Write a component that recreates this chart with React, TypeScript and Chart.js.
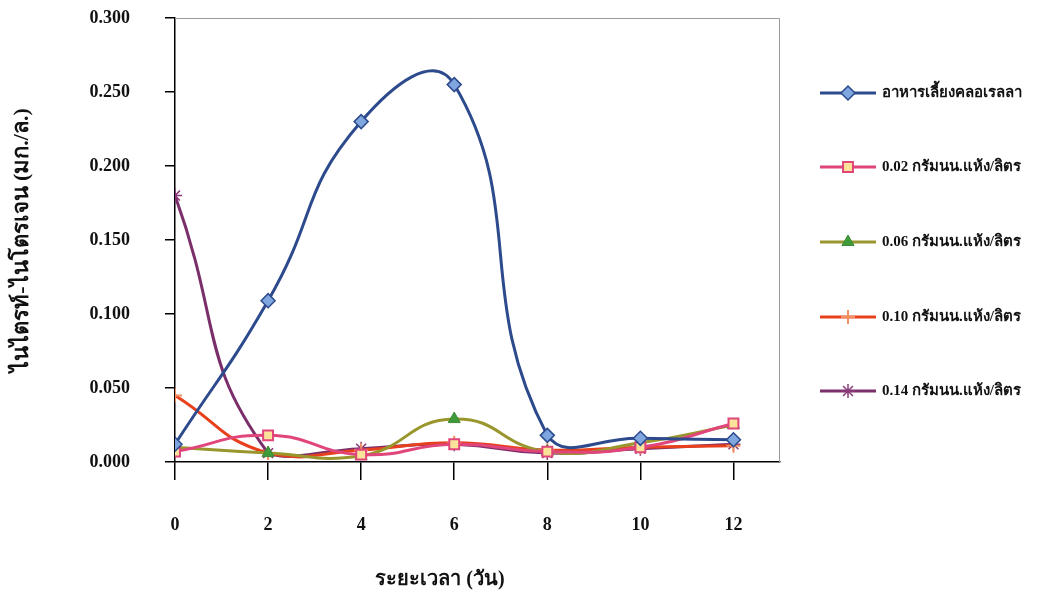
import React, { useEffect, useRef } from 'react';
import { Chart, registerables } from 'chart.js';
import { drawPoint } from 'chart.js/helpers';

Chart.register(...registerables);

const days = [0, 2, 4, 6, 8, 10, 12];
const chlorella = [0.012, 0.109, 0.23, 0.255, 0.018, 0.016, 0.015];
const dose002 = [0.007, 0.018, 0.005, 0.012, 0.007, 0.01, 0.026];
const dose006 = [0.01, 0.006, 0.004, 0.029, 0.007, 0.013, 0.025];
const dose010 = [0.045, 0.006, 0.008, 0.013, 0.008, 0.01, 0.011];
const dose014 = [0.18, 0.006, 0.009, 0.012, 0.006, 0.009, 0.012];
const seriesLabels = [
  'อาหารเลี้ยงคลอเรลลา',
  '0.02 กรัมนน.แห้ง/ลิตร',
  '0.06 กรัมนน.แห้ง/ลิตร',
  '0.10 กรัมนน.แห้ง/ลิตร',
  '0.14 กรัมนน.แห้ง/ลิตร',
];
const yTicks = [0, 0.05, 0.1, 0.15, 0.2, 0.25, 0.3];
const xTitle = 'ระยะเวลา (วัน)';
const yTitle = 'ไนไตรท์-ไนโตรเจน (มก./ล.)';

const FONT = '"Liberation Serif", "DejaVu Serif", serif';

const styles = [
  { line: '#2C4A8C', fill: '#7FA6DE', border: '#2C4A8C', point: 'rectRot', radius: 7, bw: 1.5 },
  { line: '#E0457B', fill: '#FBE49A', border: '#E0457B', point: 'rect', radius: 7, bw: 2 },
  { line: '#9A962E', fill: '#3E9A3A', border: '#3E8A36', point: 'triangle', radius: 7, bw: 1 },
  { line: '#E8401C', fill: '#F4A070', border: '#F29060', point: 'cross', radius: 7, bw: 2 },
  { line: '#7A2F6B', fill: '#7A2F6B', border: '#8A3A7A', point: 'star', radius: 7, bw: 1.5 },
];
const seriesValues = [chlorella, dose002, dose006, dose010, dose014];

const decorPlugin = {
  id: 'decor',
  beforeDatasetsDraw(chart: any) {
    const { ctx, chartArea: a } = chart;
    ctx.save();
    ctx.strokeStyle = '#9a9a9a';
    ctx.lineWidth = 1;
    ctx.beginPath();
    ctx.moveTo(a.left, a.top + 0.5);
    ctx.lineTo(a.right - 0.5, a.top + 0.5);
    ctx.lineTo(a.right - 0.5, a.bottom);
    ctx.stroke();
    ctx.restore();
  },
  afterDraw(chart: any) {
    const { ctx } = chart;
    ctx.save();
    const ys = [93, 167, 242, 317, 391];
    seriesLabels.forEach((lab, i) => {
      const s = styles[i];
      const y = ys[i];
      ctx.strokeStyle = s.line;
      ctx.lineWidth = 3;
      ctx.beginPath();
      ctx.moveTo(820, y);
      ctx.lineTo(876, y);
      ctx.stroke();
      ctx.fillStyle = s.fill;
      ctx.strokeStyle = s.border;
      ctx.lineWidth = s.bw;
      drawPoint(ctx, { pointStyle: s.point, radius: s.radius, rotation: 0, borderWidth: s.bw } as any, 848, y);
      ctx.fillStyle = '#111';
      ctx.font = 'bold 15px ' + FONT;
      ctx.textAlign = 'left';
      ctx.textBaseline = 'middle';
      ctx.fillText(lab, 882, y);
    });
    ctx.fillStyle = '#111';
    ctx.font = 'bold 20px ' + FONT;
    ctx.textAlign = 'center';
    ctx.textBaseline = 'middle';
    ctx.fillText(xTitle, 440, 580);
    ctx.font = 'bold 22px ' + FONT;
    ctx.translate(22, 240);
    ctx.rotate(-Math.PI / 2);
    ctx.fillText(yTitle, 0, 0);
    ctx.restore();
  },
};

export default function App() {
  const ref = useRef<HTMLCanvasElement | null>(null);
  useEffect(() => {
    if (!ref.current) return;
    const chart = new Chart(ref.current, {
      type: 'line',
      data: {
        datasets: seriesValues.map((vals, i) => ({
          label: seriesLabels[i],
          data: days.map((d, j) => ({ x: d, y: vals[j] })),
          borderColor: styles[i].line,
          borderWidth: 3,
          backgroundColor: styles[i].fill,
          pointBackgroundColor: styles[i].fill,
          pointBorderColor: styles[i].border,
          pointBorderWidth: styles[i].bw,
          pointStyle: styles[i].point as any,
          pointRadius: styles[i].radius,
          tension: 0.5,
          fill: false,
        })),
      },
      options: {
        animation: false,
        responsive: false,
        layout: { padding: { left: 0, right: 269, top: 18, bottom: 0 } },
        plugins: { legend: { display: false }, tooltip: { enabled: false } },
        scales: {
          x: {
            type: 'linear',
            min: 0,
            max: 13,
            afterBuildTicks: (s: any) => {
              s.ticks = days.map((v) => ({ value: v }));
            },
            afterFit: (s: any) => {
              s.height = 137;
              s.paddingLeft = 0;
              s.paddingRight = 0;
            },
            grid: { drawOnChartArea: false, drawTicks: true, tickLength: 18, color: '#000', lineWidth: 1.5 },
            border: { color: '#000', width: 1.5 },
            ticks: { color: '#111', padding: 35, font: { family: FONT, size: 18, weight: 'bold' } },
          },
          y: {
            type: 'linear',
            min: 0,
            max: 0.3,
            afterBuildTicks: (s: any) => {
              s.ticks = yTicks.map((v) => ({ value: v }));
            },
            afterFit: (s: any) => {
              s.width = 175;
              s.paddingTop = 0;
              s.paddingBottom = 0;
            },
            grid: { drawOnChartArea: false, drawTicks: true, tickLength: 10, color: '#000', lineWidth: 1.5 },
            border: { color: '#000', width: 1.5 },
            ticks: {
              color: '#111',
              padding: 35,
              font: { family: FONT, size: 18, weight: 'bold' },
              callback: (v: any) => Number(v).toFixed(3),
            },
          },
        },
      },
      plugins: [decorPlugin],
    });
    return () => chart.destroy();
  }, []);
  return (
    <canvas
      ref={ref}
      width={1049}
      height={599}
      style={{ position: 'fixed', left: 0, top: 0, display: 'block', background: '#fff' }}
    />
  );
}
